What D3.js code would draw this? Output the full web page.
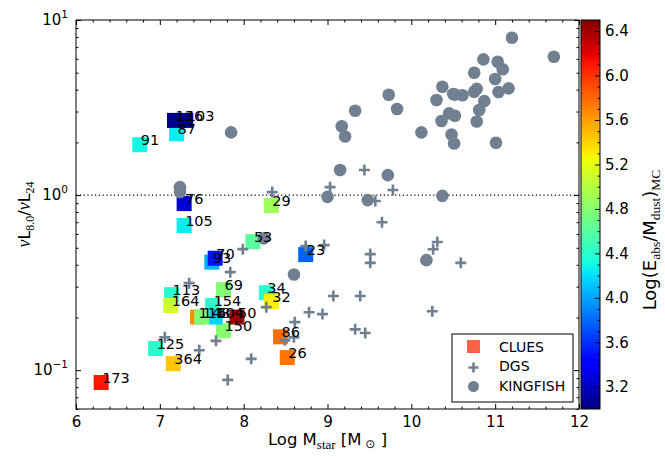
<!DOCTYPE html>
<html>
<head>
<meta charset="utf-8">
<script src="https://cdn.jsdelivr.net/npm/d3@7"></script>
<style>
  body { margin: 0; background: #fff; }
  svg text { font-family: "DejaVu Sans", sans-serif; fill: #000; }
  .sub { font-family: "Liberation Serif", serif; }
</style>
</head>
<body>
<div id="chart"></div>
<script>
// CLUES simulated galaxies: label, log Mstar, nuL8/nuL24, log(Eabs/Mdust)
var cluesId    = ["173","364","125","113","164","69","154","150","116","104","148","50","34","32","86","26","29","53","23","76","105","91","87","136","103","93","70"];
var cluesMass  = [6.30, 7.16, 6.95, 7.14, 7.13, 7.76, 7.63, 7.76, 7.45, 7.66, 7.50, 7.92, 8.27, 8.33, 8.44, 8.52, 8.33, 8.11, 8.74, 7.29, 7.29, 6.76, 7.20, 7.175, 7.31, 7.62, 7.66];
var cluesRatio = [0.085, 0.109, 0.133, 0.270, 0.234, 0.288, 0.234, 0.168, 0.201, 0.201, 0.201, 0.201, 0.277, 0.246, 0.155, 0.118, 0.87, 0.542, 0.457, 0.894, 0.67, 1.94, 2.24, 2.67, 2.67, 0.414, 0.436];
var cluesEabs  = [6.1, 5.45, 4.4, 4.38, 5.1, 4.77, 4.4, 4.8, 5.66, 4.16, 4.77, 6.4, 4.4, 5.3, 5.77, 5.75, 4.9, 4.6, 3.77, 3.27, 4.25, 4.3, 4.25, 3.03, 3.03, 4.05, 3.5];

// DGS dwarfs
var dgsMass  = [7.35, 7.84, 7.99, 8.34, 8.74, 8.96, 9.03, 9.44, 9.78, 9.57, 9.65, 9.51, 9.51, 10.31, 10.26, 10.59, 10.25, 9.07, 9.39, 8.78, 8.94, 8.61, 8.60, 8.49, 9.33, 9.45, 7.06, 7.67, 7.47, 8.09, 7.81, 8.27];
var dgsRatio = [0.314, 0.363, 0.491, 1.04, 0.512, 0.518, 1.11, 1.39, 1.07, 0.925, 0.70, 0.46, 0.41, 0.54, 0.49, 0.41, 0.217, 0.265, 0.265, 0.214, 0.209, 0.188, 0.154, 0.148, 0.171, 0.163, 0.154, 0.147, 0.13, 0.116, 0.088, 0.229];

// KINGFISH
var kfMass  = [11.20, 11.70, 10.86, 11.03, 11.09, 10.75, 11.00, 11.16, 11.04, 10.37, 10.50, 10.52, 10.61, 10.75, 10.78, 10.30, 10.87, 10.81, 10.45, 10.52, 10.36, 10.78, 10.48, 10.51, 11.01, 10.12, 9.73, 9.83, 9.33, 9.17, 9.21, 9.15, 9.72, 9.00, 9.48, 10.37, 7.85, 7.24, 7.24, 8.24, 8.60, 10.18];
var kfRatio = [7.92, 6.17, 5.96, 5.78, 5.23, 5.00, 4.60, 4.07, 3.88, 4.16, 3.78, 3.75, 3.72, 3.89, 4.04, 3.49, 3.44, 3.06, 2.93, 2.84, 2.65, 2.63, 2.22, 1.97, 1.99, 2.28, 3.74, 3.10, 3.03, 2.47, 2.16, 1.39, 1.30, 0.977, 0.936, 0.99, 2.28, 1.11, 1.04, 0.566, 0.352, 0.425];

var xMajor = [6, 7, 8, 9, 10, 11, 12];
var yMajor = [0.1, 1, 10];
var cMajor = [3.2, 3.6, 4.0, 4.4, 4.8, 5.2, 5.6, 6.0, 6.4];

var gray = "#708090";

var svg = d3.select("#chart").append("svg")
    .attr("width", 665)
    .attr("height", 456);

var x = d3.scaleLinear().domain([6, 12]).range([76, 579]);
var y = d3.scaleLog().domain([0.06, 10]).range([409, 20]);
var cy = d3.scaleLinear().domain([3.0, 6.5]).range([409, 20]);

// matplotlib jet
var norm = d3.scaleLinear().domain([3.0, 6.5]).range([0, 1]).clamp(true);
var jr = d3.scaleLinear().domain([0, 0.35, 0.66, 0.89, 1]).range([0, 0, 1, 1, 0.5]);
var jg = d3.scaleLinear().domain([0, 0.125, 0.375, 0.64, 0.91, 1]).range([0, 0, 1, 1, 0, 0]);
var jb = d3.scaleLinear().domain([0, 0.11, 0.34, 0.65, 1]).range([0.5, 1, 1, 0, 0]);
function jet(t) { return d3.rgb(255 * jr(t), 255 * jg(t), 255 * jb(t)).toString(); }
function color(v) { return jet(norm(v)); }

svg.append("defs").append("clipPath").attr("id", "clip")
  .append("rect").attr("x", 76).attr("y", 20).attr("width", 503).attr("height", 389);

// dotted line at 1
svg.append("line")
    .attr("x1", x(6)).attr("x2", x(12))
    .attr("y1", y(1)).attr("y2", y(1))
    .attr("stroke", "#000").attr("stroke-width", 1.2)
    .attr("stroke-dasharray", "1.2,2.6");

var plot = svg.append("g").attr("clip-path", "url(#clip)");

// CLUES squares
plot.selectAll(".clues")
    .data(cluesId)
  .enter().append("rect")
    .attr("x", function(d, i) { return x(cluesMass[i]) - 7.5; })
    .attr("y", function(d, i) { return y(cluesRatio[i]) - 7.5; })
    .attr("width", 15).attr("height", 15)
    .attr("fill", function(d, i) { return color(cluesEabs[i]); });

// DGS crosses
plot.selectAll(".dgs")
    .data(dgsMass)
  .enter().append("path")
    .attr("transform", function(d, i) { return "translate(" + x(d) + "," + y(dgsRatio[i]) + ")"; })
    .attr("d", "M-5.5,0H5.5M0,-5.5V5.5")
    .attr("stroke", gray).attr("stroke-width", 2.6);

// KINGFISH circles
plot.selectAll(".kf")
    .data(kfMass)
  .enter().append("circle")
    .attr("cx", function(d) { return x(d); })
    .attr("cy", function(d, i) { return y(kfRatio[i]); })
    .attr("r", 6.3)
    .attr("fill", gray);

// labels
svg.selectAll(".lab")
    .data(cluesId)
  .enter().append("text")
    .attr("x", function(d, i) { return x(cluesMass[i]) + 1; })
    .attr("y", function(d, i) { return y(cluesRatio[i]) + 0.5; })
    .attr("font-size", 14.5)
    .text(function(d) { return d; });

// frame
svg.append("rect")
    .attr("x", 76).attr("y", 20).attr("width", 503).attr("height", 389)
    .attr("fill", "none").attr("stroke", "#000").attr("stroke-width", 1);

function tidy(g) {
  g.select(".domain").remove();
  g.selectAll("line").attr("stroke", "#000");
  g.selectAll("text").attr("font-size", 15).attr("fill", "#000")
    .attr("font-family", "DejaVu Sans, sans-serif");
}

var xMinor = d3.range(6, 12.01, 0.2).filter(function(v) { return Math.abs(v - Math.round(v)) > 0.01; });
var yMinor = [];
[0.01, 0.1, 1].forEach(function(b) { for (var k = 2; k <= 9; k++) { var v = b * k; if (v > 0.06 - 1e-9 && v < 10) yMinor.push(v); } });

svg.append("g").attr("transform", "translate(0,409)")
    .call(d3.axisBottom(x).tickValues(xMajor).tickSize(-5).tickSizeOuter(0).tickPadding(7).tickFormat(d3.format("d")))
    .call(tidy);
svg.append("g").attr("transform", "translate(0,409)")
    .call(d3.axisBottom(x).tickValues(xMinor).tickSize(-2.5).tickFormat(""))
    .call(tidy);
svg.append("g").attr("transform", "translate(0,20)")
    .call(d3.axisTop(x).tickValues(xMajor).tickSize(-5).tickFormat(""))
    .call(tidy);
svg.append("g").attr("transform", "translate(0,20)")
    .call(d3.axisTop(x).tickValues(xMinor).tickSize(-2.5).tickFormat(""))
    .call(tidy);

var yAxis = svg.append("g").attr("transform", "translate(76,0)")
    .call(d3.axisLeft(y).tickValues(yMajor).tickSize(-5).tickPadding(8).tickFormat(function() { return ""; }))
    .call(tidy);
yAxis.selectAll("text").each(function(d) {
  var t = d3.select(this);
  var e = Math.round(Math.log10(d));
  t.append("tspan").text("10");
  t.append("tspan").attr("dy", -7).attr("font-size", 10.5).text(e < 0 ? "\u2212" + (-e) : e);
});
svg.append("g").attr("transform", "translate(76,0)")
    .call(d3.axisLeft(y).tickValues(yMinor).tickSize(-2.5).tickFormat(""))
    .call(tidy);
svg.append("g").attr("transform", "translate(579,0)")
    .call(d3.axisRight(y).tickValues(yMajor).tickSize(-5).tickFormat(""))
    .call(tidy);
svg.append("g").attr("transform", "translate(579,0)")
    .call(d3.axisRight(y).tickValues(yMinor).tickSize(-2.5).tickFormat(""))
    .call(tidy);

// colorbar
var grad = svg.select("defs").append("linearGradient")
    .attr("id", "jet").attr("x1", 0).attr("y1", 1).attr("x2", 0).attr("y2", 0);
grad.selectAll("stop")
    .data(d3.range(0, 1.0001, 0.01))
  .enter().append("stop")
    .attr("offset", function(d) { return d; })
    .attr("stop-color", function(d) { return jet(d); });

svg.append("rect")
    .attr("x", 581).attr("y", 20).attr("width", 19).attr("height", 389)
    .attr("fill", "url(#jet)").attr("stroke", "#000").attr("stroke-width", 1);

var cMinor = d3.range(3.1, 6.5, 0.1).filter(function(v) {
  return !cMajor.some(function(m) { return Math.abs(m - v) < 0.01; });
});
svg.append("g").attr("transform", "translate(600,0)")
    .call(d3.axisRight(cy).tickValues(cMajor).tickSize(-5).tickPadding(5).tickFormat(d3.format(".1f")))
    .call(tidy);
svg.append("g").attr("transform", "translate(600,0)")
    .call(d3.axisRight(cy).tickValues(cMinor).tickSize(-2.5).tickFormat(""))
    .call(tidy);

// axis titles
var xl = svg.append("text")
    .attr("x", 327.5).attr("y", 445)
    .attr("text-anchor", "middle").attr("font-size", 16.5);
xl.append("tspan").text("Log M");
xl.append("tspan").attr("class", "sub").attr("font-size", 13).attr("dy", 4).text("star");
xl.append("tspan").attr("dy", -4).text(" [M");
xl.append("tspan").attr("font-size", 12).attr("dy", 3).text(" \u2299");
xl.append("tspan").attr("dy", -3).text(" ]");

var yl = svg.append("text")
    .attr("transform", "translate(30,214.5) rotate(-90)")
    .attr("text-anchor", "middle").attr("font-size", 16);
yl.append("tspan").attr("class", "sub").attr("font-style", "italic").attr("font-size", 18).text("\u03bd");
yl.append("tspan").text("L");
yl.append("tspan").attr("class", "sub").attr("font-size", 12).attr("dy", 4).text("8.0");
yl.append("tspan").attr("dy", -4).text("/");
yl.append("tspan").attr("class", "sub").attr("font-style", "italic").attr("font-size", 18).text("\u03bd");
yl.append("tspan").text("L");
yl.append("tspan").attr("class", "sub").attr("font-size", 12).attr("dy", 4).text("24");

var cl = svg.append("text")
    .attr("transform", "translate(656,240) rotate(-90)")
    .attr("text-anchor", "middle").attr("font-size", 18);
cl.append("tspan").text("Log(E");
cl.append("tspan").attr("class", "sub").attr("font-size", 13.5).attr("dy", 4).text("abs");
cl.append("tspan").attr("dy", -4).text("/M");
cl.append("tspan").attr("class", "sub").attr("font-size", 13.5).attr("dy", 4).text("dust");
cl.append("tspan").attr("dy", -4).text(")");
cl.append("tspan").attr("class", "sub").attr("font-size", 13.5).attr("dy", 4).text("MC");

// legend
var leg = svg.append("g");
leg.append("rect")
    .attr("x", 452).attr("y", 334).attr("width", 121).attr("height", 68)
    .attr("fill", "#fff").attr("stroke", "#000").attr("stroke-width", 1);
leg.append("rect")
    .attr("x", 467).attr("y", 340).attr("width", 13).attr("height", 13)
    .attr("fill", "#fb6246");
leg.append("path")
    .attr("transform", "translate(473.5,367.5)")
    .attr("d", "M-5,0H5M0,-5V5")
    .attr("stroke", gray).attr("stroke-width", 2.6);
leg.append("circle")
    .attr("cx", 473.5).attr("cy", 386.5).attr("r", 5.5).attr("fill", gray);
var legNames = ["CLUES", "DGS", "KINGFISH"];
leg.selectAll(".ln")
    .data(legNames)
  .enter().append("text")
    .attr("x", 499)
    .attr("y", function(d, i) { return 351.5 + i * 19.5; })
    .attr("font-size", 14)
    .text(function(d) { return d; });
</script>
</body>
</html>
